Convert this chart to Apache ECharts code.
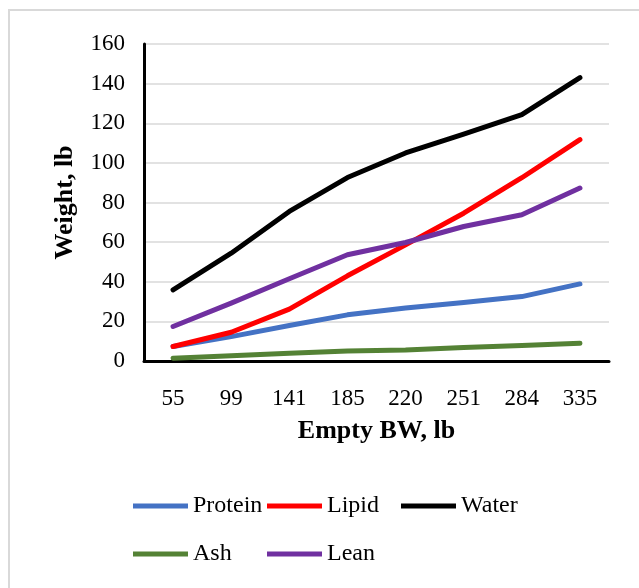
<!DOCTYPE html>
<html>
<head>
<meta charset="utf-8">
<script src="https://cdn.jsdelivr.net/npm/echarts@6/dist/echarts.min.js"></script>
<style>
  html, body { margin: 0; padding: 0; background: #fff; }
  #main { width: 639px; height: 588px; }
</style>
</head>
<body>
<div id="main"></div>
<script>
"use strict";

// 数据
const categories = ['55', '99', '141', '185', '220', '251', '284', '335'];
const protein = [7.3, 12.3, 17.9, 23.3, 26.7, 29.5, 32.5, 38.9];
const lipid = [7.3, 14.5, 26.2, 43, 58.6, 74.6, 92.5, 111.7];
const water = [35.9, 54.4, 75.5, 92.6, 105, 114.5, 124.3, 143];
const ash = [1.4, 2.6, 3.9, 5.1, 5.6, 6.8, 7.8, 9];
const lean = [17.4, 29.2, 41.5, 53.6, 59.8, 67.9, 73.8, 87.3];

const font = '"Liberation Serif", "Times New Roman", serif';

let myChart = echarts.init(document.getElementById('main'));

function makeSeries(name, data, color) {
  return {
    name: name,
    type: 'line',
    data: data,
    symbol: 'none',
    lineStyle: { color: color, width: 5, cap: 'round', join: 'round' },
    itemStyle: { color: color },
  };
}

function makeLegend(names, top) {
  return {
    data: names,
    left: 133,
    top: top,
    padding: 0,
    itemWidth: 55,
    itemHeight: 5,
    itemGap: 3,
    icon: 'path://M0,0 L55,0 L55,5 L0,5 Z',
    textStyle: { fontFamily: font, fontSize: 24, color: '#000', width: 71, lineHeight: 26 },
  };
}

let option = {
  animation: false,
  graphic: [{ // 外框
    type: 'rect',
    silent: true,
    shape: { x: 9, y: 10, width: 700, height: 700 },
    style: { fill: 'none', stroke: '#d9d9d9', lineWidth: 2 },
  }],
  grid: { left: 144, right: 30, top: 44, bottom: 227 },
  legend: [
    makeLegend(['Protein', 'Lipid', 'Water'], 493),
    makeLegend(['Ash', 'Lean'], 541),
  ],
  xAxis: {
    type: 'category',
    data: categories,
    name: 'Empty BW, lb',
    nameLocation: 'middle',
    nameGap: 57,
    nameTextStyle: { fontFamily: font, fontSize: 26, fontWeight: 'bold', color: '#000' },
    axisLine: { lineStyle: { color: '#000', width: 3 } },
    axisTick: { show: false },
    axisLabel: { fontFamily: font, fontSize: 23, color: '#000', margin: 26 },
  },
  yAxis: {
    type: 'value',
    min: 0,
    max: 160,
    interval: 20,
    name: 'Weight, lb',
    nameLocation: 'middle',
    nameGap: 66,
    nameTextStyle: { fontFamily: font, fontSize: 26, fontWeight: 'bold', color: '#000' },
    axisLine: { show: true, lineStyle: { color: '#000', width: 3 } },
    axisTick: { show: false },
    axisLabel: { fontFamily: font, fontSize: 23, color: '#000', margin: 19 },
    splitLine: { lineStyle: { color: '#d9d9d9', width: 1.5 } },
  },
  series: [
    makeSeries('Protein', protein, '#4472C4'),
    makeSeries('Lipid', lipid, '#FF0000'),
    makeSeries('Water', water, '#000000'),
    makeSeries('Ash', ash, '#548235'),
    makeSeries('Lean', lean, '#7030A0'),
  ],
};

myChart.setOption(option);
</script>
</body>
</html>
